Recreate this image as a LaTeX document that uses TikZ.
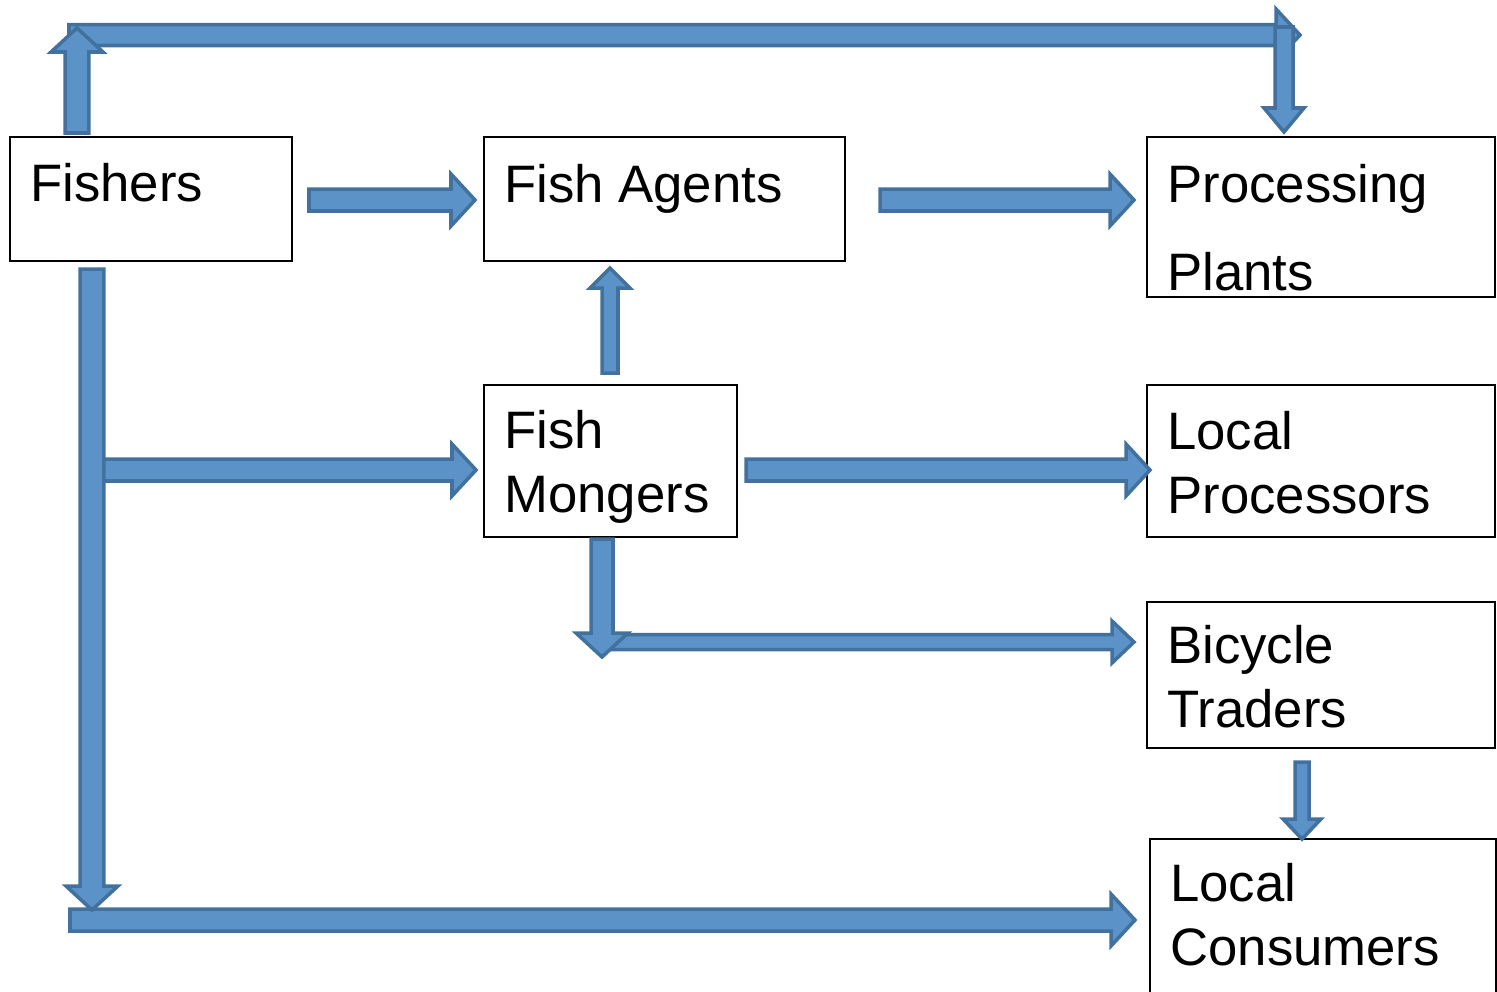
\documentclass[tikz,border=0pt]{standalone}
\usepackage{fontspec}
\setmainfont{Liberation Sans}
\usepackage{tikz}
\usetikzlibrary{calc,fit,positioning}
\definecolor{arrfill}{HTML}{5B93C9}
\definecolor{arrline}{HTML}{41719C}
\tikzset{
  box/.style     ={draw=black, line width=1pt, inner sep=0pt, outer sep=0pt},
  lbl/.style     ={anchor=base west, inner sep=0pt, align=left,
                   font=\fontsize{30}{36}\selectfont},
  shaft/.code    ={\pgfmathsetlengthmacro\arrsw{#1*0.01cm}},
  head/.code     ={\pgfmathsetlengthmacro\arrhw{#1*0.01cm}},
  headlen/.code  ={\pgfmathsetlengthmacro\arrhl{#1*0.02cm}},
  blockarr/.style={draw=arrline, fill=arrfill, line width=2pt, line join=miter,
                   shaft=22, head=52, headlen=24,
                   to path={let \p1=(\tikztostart), \p2=(\tikztotarget),
                     \p3=($(\p2)!\arrhl!(\p1)$) in
                     ($(\p1)!\arrsw!90:(\p2)$) -- ($(\p3)!\arrsw!90:(\p2)$)
                     -- ($(\p3)!\arrhw!90:(\p2)$) -- (\p2)
                     -- ($(\p3)!\arrhw!-90:(\p2)$) -- ($(\p3)!\arrsw!-90:(\p2)$)
                     -- ($(\p1)!\arrsw!-90:(\p2)$) -- cycle}},
  smallarr/.style={blockarr, shaft=16, head=40, headlen=20},
}

\begin{document}
\begin{tikzpicture}[x=0.02cm,y=-0.02cm]
  \useasboundingbox (0,0) rectangle (1497,991);

  % boxes
  \node[box, fit={(10,137) (292,261)}]    (fishers)    {};
  \node[box, fit={(484,137) (845,261)}]   (agents)     {};
  \node[box, fit={(1147,137) (1495,297)}] (processing) {};
  \node[box, fit={(484,385) (737,537)}]   (mongers)    {};
  \node[box, fit={(1147,385) (1495,537)}] (locproc)    {};
  \node[box, fit={(1147,602) (1495,748)}] (bicycle)    {};
  \node[box, fit={(1150,839) (1496,1010)}] (consumers) {};

  % labels (base = last line)
  \node[lbl] (fishers-t)    at (30,201)   {Fishers};
  \node[lbl] (agents-t)     at (504,202)  {Fish Agents};
  \node[lbl] (processing-t) at (1167,290) {Processing\\[14pt]Plants};
  \node[lbl] (mongers-t)    at (504,512)  {Fish\\Mongers};
  \node[lbl] (locproc-t)    at (1167,513) {Local\\Processors};
  \node[lbl] (bicycle-t)    at (1167,727) {Bicycle\\Traders};
  \node[lbl] (consumers-t)  at (1170,965) {Local\\Consumers};

  % corners of the long routes
  \coordinate (corner-tl) at (77,28);
  \coordinate (corner-tr) at (1300,35);
  \coordinate (corner-bl) at (92,910);
  \coordinate (corner-mb) at (602,657);

  % flows
  \draw[blockarr] ($(fishers.east)+(17,1)$) to ($(agents.west)+(-9,1)$);
  \draw[blockarr] ($(agents.east)+(35,1)$) to ($(agents.east -| processing.west)+(-13,1)$);

  \draw[blockarr, shaft=21] ($(corner-tl)+(-8,7)$) to (corner-tr);
  \draw[blockarr, shaft=24] ($(fishers.north west)+(67,-4)$) to (corner-tl);
  \draw[blockarr, shaft=18, head=40] ($(corner-tr)+(-16,-8)$) to ($(processing.north west)+(137,-5)$);

  \draw[blockarr] ($(corner-bl)+(-22,10)$) to ($(consumers.north west)+(-15,81)$);
  \draw[blockarr] ($(mongers.west)+(-384,9)$) to ($(mongers.west)+(-8,9)$);
  \draw[blockarr, shaft=24] ($(fishers.south west)+(82,8)$) to (corner-bl);

  \draw[smallarr] ($(mongers.north west)+(126,-12)$) to ($(agents.south west)+(126,7)$);
  \draw[blockarr] ($(mongers.east)+(9,9)$) to ($(locproc.west)+(3,9)$);

  \draw[smallarr, shaft=15, head=42, headlen=22] ($(corner-mb)+(10,-15)$) to ($(bicycle.north west)+(-13,40)$);
  \draw[blockarr] ($(mongers.south west)+(118,2)$) to (corner-mb);

  \draw[smallarr, shaft=14, head=38] ($(bicycle.south west)+(155,14)$) to ($(consumers.north west)+(152,0)$);
\end{tikzpicture}
\end{document}
